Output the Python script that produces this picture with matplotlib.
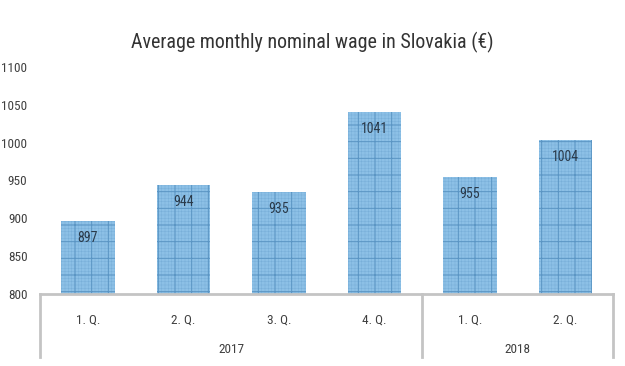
import matplotlib
matplotlib.use("Agg")
import matplotlib.pyplot as plt

title = "Average monthly nominal wage in Slovakia (€)"
quarters = ["1. Q.", "2. Q.", "3. Q.", "4. Q.", "1. Q.", "2. Q."]
years = ["2017", "2018"]
year_counts = [4, 2]
values = [897, 944, 935, 1041, 955, 1004]
yticks = [800, 850, 900, 950, 1000, 1050, 1100]

plt.rcParams['font.family'] = ['Roboto Condensed', 'Archivo Narrow', 'Lato', 'DejaVu Sans']

fig = plt.figure(figsize=(6.25, 3.66), dpi=100)
ax = fig.add_axes([0.064, 0.197, 0.917, 0.62])

x = list(range(len(values)))
heights = [v - 800 for v in values]
# base fill with fine grid texture
plt.rcParams['hatch.linewidth'] = 0.35
ax.bar(x, heights, bottom=800, width=0.56,
       color='#8cc0e6', edgecolor='#78afd9', linewidth=0, hatch='+++++')
# coarser grid lines on top
plt.rcParams['hatch.linewidth'] = 0.7
ax.bar(x, heights, bottom=800, width=0.56,
       color='none', edgecolor='#5a95c4', linewidth=0, hatch='+')

for xi, v in zip(x, values):
    ax.annotate(str(v), (xi, v), xytext=(0, -12.5), textcoords='offset points',
                ha='center', va='center', fontsize=10, color='#2a3a4a')

ax.set_xlim(-0.5, len(values) - 0.5)
ax.set_ylim(800, 1100)
ax.set_yticks(yticks)
ax.set_yticklabels([str(t) for t in yticks], fontsize=9.5, color='#404040')
ax.tick_params(axis='y', length=0, pad=9)
ax.tick_params(axis='x', length=0, labelbottom=False)
for s in ['top', 'right', 'left']:
    ax.spines[s].set_visible(False)
ax.spines['bottom'].set_color('#c4c4c4')
ax.spines['bottom'].set_linewidth(2)

trans = ax.get_xaxis_transform()
for xi, q in zip(x, quarters):
    ax.text(xi, -0.115, q, transform=trans, ha='center', va='center',
            fontsize=9.5, color='#404040')

# separators and year labels
pos = -0.5
bounds = [pos]
for c in year_counts:
    pos += c
    bounds.append(pos)
for b in bounds:
    ax.plot([b, b], [0, -0.28], transform=trans, color='#c4c4c4',
            linewidth=2, clip_on=False)
for i, yname in enumerate(years):
    mid = (bounds[i] + bounds[i + 1]) / 2
    ax.text(mid, -0.245, yname, transform=trans, ha='center', va='center',
            fontsize=9.5, color='#404040')

fig.text(0.5, 0.885, title, ha='center', va='center', fontsize=14.4, color='#333333')

fig.savefig("out.png", dpi=100, facecolor='white')
